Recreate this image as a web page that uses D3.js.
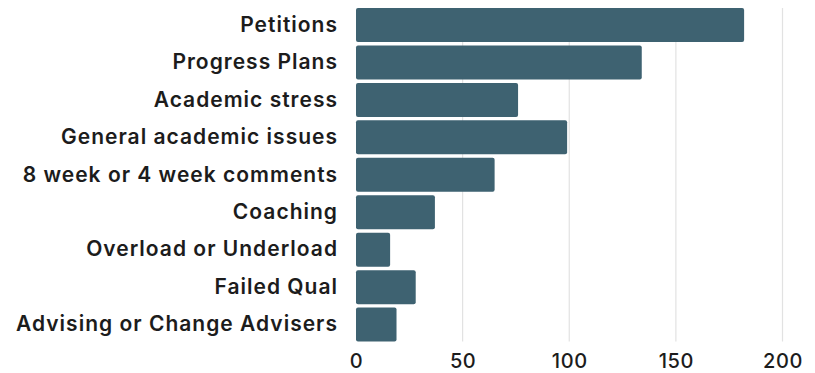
<!DOCTYPE html>
<html>
<head>
<meta charset="utf-8">
<script src="https://cdn.jsdelivr.net/npm/d3@7"></script>
<style>
  html, body { margin: 0; padding: 0; background: #ffffff; }
  svg { display: block; }
  text { font-family: Inter, "Noto Sans", sans-serif; }
</style>
</head>
<body>
<svg id="chart" width="815" height="373"></svg>
<script>
// Topics raised in advising meetings and how often each came up
const categories = [
  "Petitions",
  "Progress Plans",
  "Academic stress",
  "General academic issues",
  "8 week or 4 week comments",
  "Coaching",
  "Overload or Underload",
  "Failed Qual",
  "Advising or Change Advisers"
];
const counts = [182, 134, 76, 99, 65, 37, 16, 28, 19];
const xTicks = [0, 50, 100, 150, 200];

const svg = d3.select("#chart");

const x = d3.scaleLinear().domain([0, 200]).range([356, 782.5]);
const y = d3.scaleBand()
  .domain(categories)
  .range([8, 341.6])
  .paddingInner(0.092)
  .paddingOuter(0);

// vertical gridlines
svg.append("g")
  .selectAll("line")
  .data(xTicks.filter(d => d > 0))
  .join("line")
  .attr("x1", d => x(d)).attr("x2", d => x(d))
  .attr("y1", y.range()[0]).attr("y2", y.range()[1])
  .attr("stroke", "#e2e2e2")
  .attr("stroke-width", 1.2);

// bars
svg.append("g")
  .selectAll("rect")
  .data(categories)
  .join("rect")
  .attr("x", x(0))
  .attr("y", d => y(d))
  .attr("width", (d, i) => x(counts[i]) - x(0))
  .attr("height", y.bandwidth())
  .attr("rx", 2)
  .attr("fill", "#3e6271");

// category axis
const yAxis = d3.axisLeft(y).tickSize(0).tickPadding(19);
const gy = svg.append("g")
  .attr("transform", `translate(${x(0)},0)`)
  .call(yAxis);
gy.select(".domain").remove();
const labels = gy.selectAll("text")
  .attr("font-size", 21)
  .attr("font-weight", 600)
  .attr("letter-spacing", 0)
  .attr("fill", "#1c1c1c")
  .style("font-family", "Inter, sans-serif");

// widen the tracking so the longest label spans the left margin
const widest = d3.max(labels.nodes(), n => n.getComputedTextLength());
const longest = d3.max(categories, c => c.length);
const tracking = Math.max(0, Math.min(1.2, (322 - widest) / longest));
labels.attr("letter-spacing", tracking).attr("dx", tracking);

// value axis
const xAxis = d3.axisBottom(x).tickValues(xTicks).tickSize(0).tickPadding(0);
const gx = svg.append("g")
  .attr("transform", `translate(0,368)`)
  .call(xAxis);
gx.select(".domain").remove();
gx.selectAll("text")
  .attr("y", 0)
  .attr("dy", 0)
  .attr("font-size", 20)
  .attr("font-weight", 500)
  .attr("letter-spacing", 0.6)
  .attr("fill", "#1c1c1c")
  .style("font-family", "Inter, sans-serif");
</script>
</body>
</html>
